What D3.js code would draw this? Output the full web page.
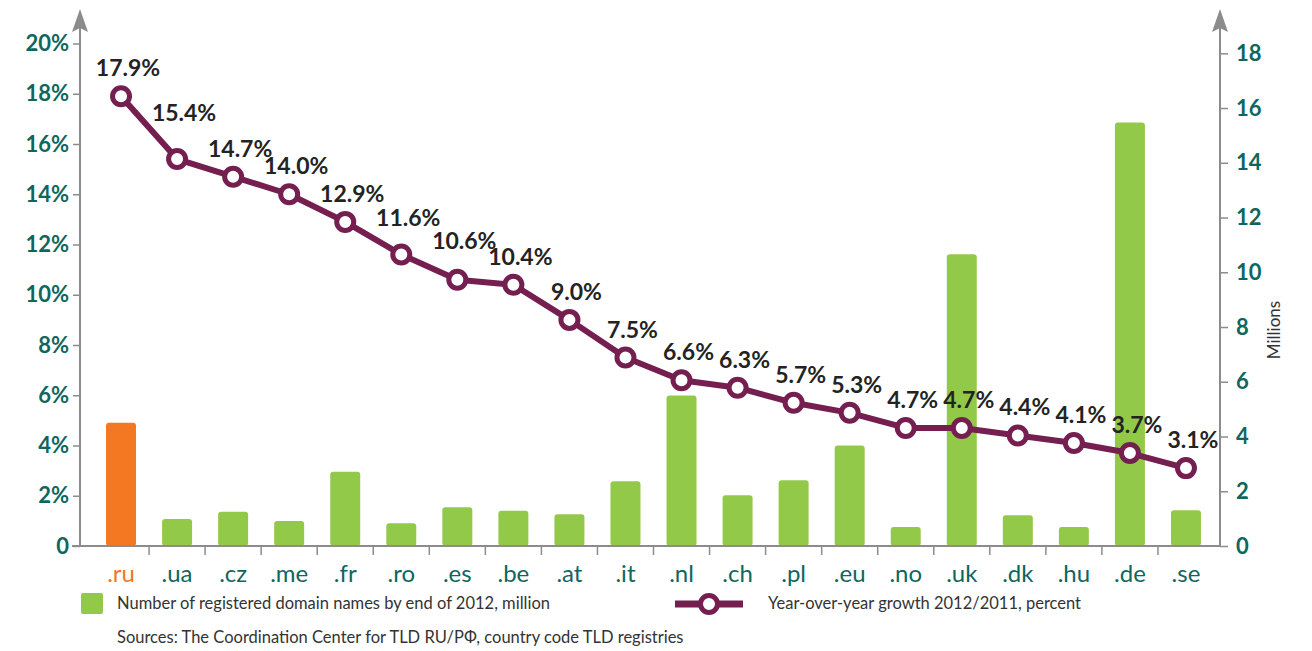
<!DOCTYPE html>
<html>
<head>
<meta charset="utf-8">
<script src="https://cdn.jsdelivr.net/npm/d3@7"></script>
<style>
  body { margin: 0; background: #fff; }
  svg { font-family: Lato, "Open Sans", sans-serif; }
</style>
</head>
<body>
<div class="chart"></div>
<script>
// categories and series
var domains = [".ru", ".ua", ".cz", ".me", ".fr", ".ro", ".es", ".be", ".at", ".it",
               ".nl", ".ch", ".pl", ".eu", ".no", ".uk", ".dk", ".hu", ".de", ".se"];
var registered = [4.5, 0.99, 1.25, 0.91, 2.71, 0.83, 1.42, 1.29, 1.16, 2.37,
                  5.5, 1.85, 2.4, 3.67, 0.69, 10.66, 1.12, 0.69, 15.47, 1.31];
var growth = [17.9, 15.4, 14.7, 14.0, 12.9, 11.6, 10.6, 10.4, 9.0, 7.5,
              6.6, 6.3, 5.7, 5.3, 4.7, 4.7, 4.4, 4.1, 3.7, 3.1];
var leftTicks = [0, 2, 4, 6, 8, 10, 12, 14, 16, 18, 20];
var rightTicks = [0, 2, 4, 6, 8, 10, 12, 14, 16, 18];

var options = {
    width: 1312,
    height: 651,
    left: 80,
    right: 1220,
    base: 546
};

var colors = {
    axis: "#8c8c8c",
    teal: "#0f665e",
    green: "#93c949",
    orange: "#f47721",
    line: "#741f50",
    text: "#232323"
};

// a few labels sit higher than the others in the original
var labelLift = { ".ua": -18, ".ro": -9, ".es": -11 };

var svg = d3.select(".chart").append("svg")
            .attr("width", options.width)
            .attr("height", options.height);

var xScale = d3.scaleBand()
                .domain(domains)
                .range([93, 1214])
                .paddingInner(0.465)
                .paddingOuter(0.2325);

var yLeft = d3.scaleLinear().domain([0, 20]).range([options.base, 43.5]);
var yRight = d3.scaleLinear().domain([0, 18]).range([options.base, 53.3]);

var cx = function (d) { return xScale(d) + xScale.bandwidth() / 2; };

// bars
svg.selectAll("rect.bar")
    .data(domains)
    .enter().append("rect")
    .attr("class", "bar")
    .attr("x", function (d) { return xScale(d); })
    .attr("y", function (d, i) { return yRight(registered[i]); })
    .attr("width", xScale.bandwidth())
    .attr("height", function (d, i) { return options.base - yRight(registered[i]); })
    .attr("rx", 3)
    .attr("fill", function (d) { return d === ".ru" ? colors.orange : colors.green; });

// axes
var leftAxis = d3.axisLeft(yLeft)
    .tickValues(leftTicks)
    .tickSize(7)
    .tickPadding(4)
    .tickFormat(function (d) { return d === 0 ? "0" : d + "%"; });

var rightAxis = d3.axisRight(yRight)
    .tickValues(rightTicks)
    .tickSize(8)
    .tickPadding(8)
    .tickFormat(d3.format("d"));

var gl = svg.append("g")
    .attr("class", "y axis left")
    .attr("transform", "translate(" + options.left + ",0)")
    .call(leftAxis);

var gr = svg.append("g")
    .attr("class", "y axis right")
    .attr("transform", "translate(" + options.right + ",0)")
    .call(rightAxis);

[gl, gr].forEach(function (g) {
    g.select(".domain").remove();
    g.selectAll(".tick line").attr("stroke", colors.axis).attr("stroke-width", 1.5);
    g.selectAll(".tick text")
        .attr("fill", colors.teal)
        .attr("font-family", "Lato, sans-serif")
        .attr("font-weight", "bold")
        .attr("font-size", "22px");
});

// vertical axis lines with arrowheads
[options.left, options.right].forEach(function (x) {
    svg.append("line")
        .attr("x1", x).attr("x2", x)
        .attr("y1", options.base + 1).attr("y2", 28)
        .attr("stroke", colors.axis)
        .attr("stroke-width", 2);
    svg.append("path")
        .attr("d", "M" + x + ",9 L" + (x + 8) + ",32 L" + x + ",28 L" + (x - 8) + ",32 Z")
        .attr("fill", colors.axis);
});

// x axis
svg.append("line")
    .attr("x1", options.left - 8).attr("x2", options.right)
    .attr("y1", options.base).attr("y2", options.base)
    .attr("stroke", colors.axis)
    .attr("stroke-width", 2);

svg.selectAll("line.xtick")
    .data(domains.slice(0, domains.length - 1))
    .enter().append("line")
    .attr("class", "xtick")
    .attr("x1", function (d) { return cx(d) + xScale.step() / 2; })
    .attr("x2", function (d) { return cx(d) + xScale.step() / 2; })
    .attr("y1", options.base)
    .attr("y2", options.base + 9)
    .attr("stroke", colors.axis)
    .attr("stroke-width", 1.5);

svg.selectAll("text.cat")
    .data(domains)
    .enter().append("text")
    .attr("class", "cat")
    .attr("x", cx)
    .attr("y", 582)
    .attr("text-anchor", "middle")
    .attr("font-size", "24px")
    .attr("fill", function (d) { return d === ".ru" ? colors.orange : colors.teal; })
    .text(function (d) { return d; });

// growth line
var line = d3.line()
    .x(function (d) { return cx(d); })
    .y(function (d, i) { return yLeft(growth[i]); });

svg.append("path")
    .datum(domains)
    .attr("d", line)
    .attr("fill", "none")
    .attr("stroke", colors.line)
    .attr("stroke-width", 6)
    .attr("stroke-linejoin", "round");

svg.selectAll("circle.pt")
    .data(domains)
    .enter().append("circle")
    .attr("class", "pt")
    .attr("cx", cx)
    .attr("cy", function (d, i) { return yLeft(growth[i]); })
    .attr("r", 8.5)
    .attr("fill", "#fff")
    .attr("stroke", colors.line)
    .attr("stroke-width", 5);

svg.selectAll("text.val")
    .data(domains)
    .enter().append("text")
    .attr("class", "val")
    .attr("x", function (d) { return cx(d) + 7; })
    .attr("y", function (d, i) { return yLeft(growth[i]) - 20 + (labelLift[d] || 0); })
    .attr("text-anchor", "middle")
    .attr("font-size", "23px")
    .attr("font-weight", "bold")
    .attr("fill", colors.text)
    .text(function (d, i) { return growth[i].toFixed(1) + "%"; });

// right axis title
svg.append("text")
    .attr("transform", "translate(1280,330) rotate(-90)")
    .attr("text-anchor", "middle")
    .attr("font-size", "17px")
    .attr("fill", "#333")
    .text("Millions");

// legend
svg.append("rect")
    .attr("x", 81).attr("y", 593)
    .attr("width", 22).attr("height", 21)
    .attr("rx", 2)
    .attr("fill", colors.green);

svg.append("text")
    .attr("x", 117).attr("y", 609)
    .attr("font-size", "16.5px")
    .attr("fill", "#333")
    .text("Number of registered domain names by end of 2012, million");

svg.append("line")
    .attr("x1", 675).attr("x2", 743)
    .attr("y1", 604).attr("y2", 604)
    .attr("stroke", colors.line)
    .attr("stroke-width", 7);

svg.append("circle")
    .attr("cx", 709).attr("cy", 604)
    .attr("r", 8.5)
    .attr("fill", "#fff")
    .attr("stroke", colors.line)
    .attr("stroke-width", 5);

svg.append("text")
    .attr("x", 768).attr("y", 609)
    .attr("font-size", "16.5px")
    .attr("fill", "#333")
    .text("Year-over-year growth 2012/2011, percent");

svg.append("text")
    .attr("x", 117).attr("y", 643)
    .attr("font-size", "16.5px")
    .attr("fill", "#333")
    .text("Sources: The Coordination Center for TLD RU/РФ, country code TLD registries");
</script>
</body>
</html>
